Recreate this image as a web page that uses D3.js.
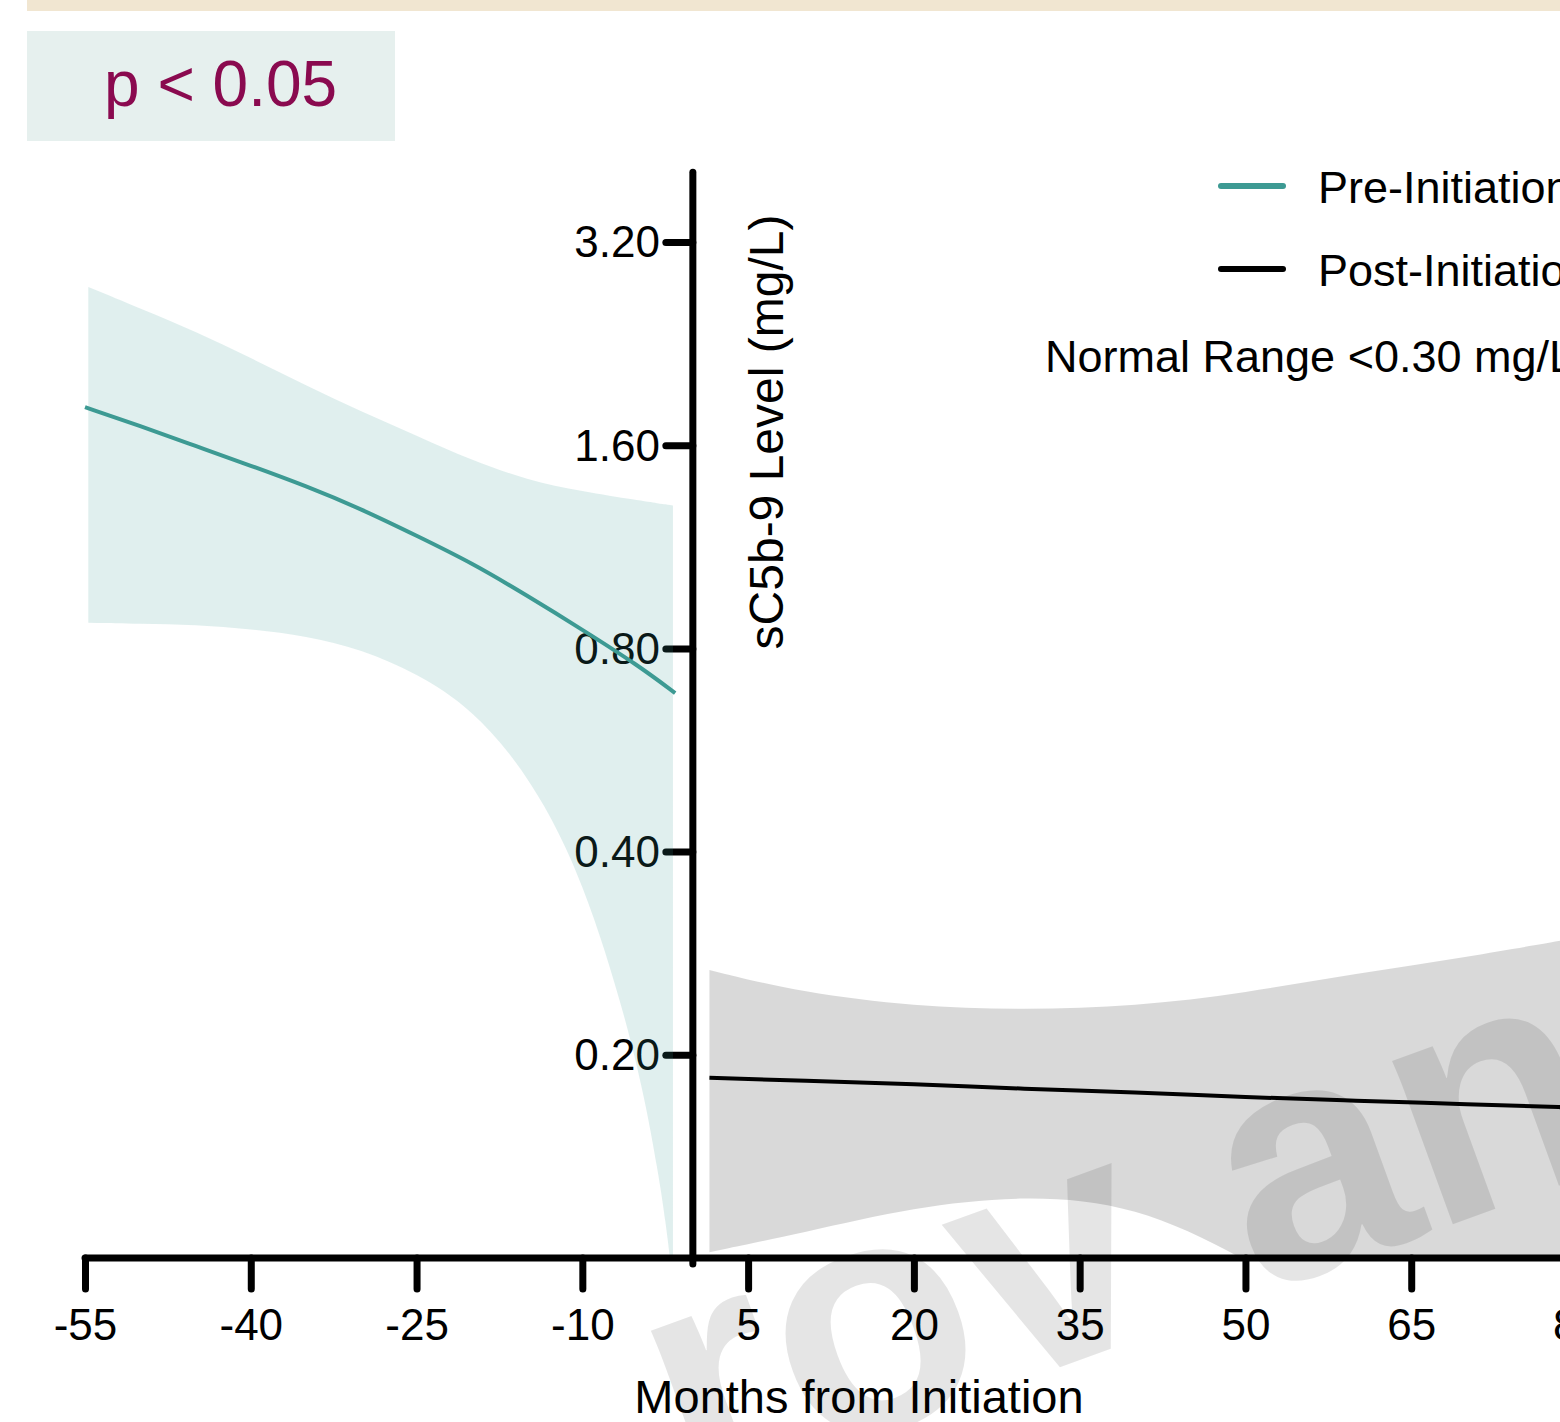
<!DOCTYPE html>
<html>
<head>
<meta charset="utf-8">
<script src="https://cdn.jsdelivr.net/npm/d3@7"></script>
<style>
  html, body { margin: 0; padding: 0; background: #ffffff; }
  svg { display: block; }
  text { font-family: "Liberation Sans", Arial, sans-serif; }
</style>
</head>
<body>
<svg id="chart" width="1560" height="1422"></svg>
<script>
// ---- data ----
const xTicks = [-55, -40, -25, -10, 5, 20, 35, 50, 65, 80];
const yTicks = [0.2, 0.4, 0.8, 1.6, 3.2];

// Pre-initiation fitted trend (months, mg/L)
const preMonths = [-55, -50, -45, -40, -35, -30, -25, -20, -15, -10, -5, -1.6];
const preFit    = [1.822, 1.708, 1.596, 1.492, 1.392, 1.287, 1.175, 1.071, 0.958, 0.853, 0.756, 0.687];

// Pre-initiation confidence band
const preBandMonths = [-54.7, -50, -45, -40, -35, -30, -25, -20, -15, -10, -5, -3, -2.5, -2, -1.8];
const preUpper      = [2.745, 2.551, 2.359, 2.155, 1.961, 1.795, 1.654, 1.519, 1.421, 1.366, 1.326, 1.311, 1.308, 1.304, 1.302];
const preLower      = [0.873, 0.870, 0.867, 0.855, 0.835, 0.798, 0.735, 0.652, 0.524, 0.371, 0.199, 0.130, 0.114, 0.098, 0.090];

// Post-initiation fitted trend
const postMonths = [1.5, 10, 20, 30, 40, 50, 60, 70, 80];
const postFit    = [0.185, 0.183, 0.181, 0.178, 0.176, 0.173, 0.171, 0.169, 0.167];

// Post-initiation confidence band
const postUpper  = [0.267, 0.247, 0.236, 0.233, 0.236, 0.247, 0.264, 0.279, 0.298];
const postLower  = [0.102, 0.109, 0.119, 0.124, 0.120, 0.100, 0.079, 0.059, 0.037];

const legendItems = [
  { label: "Pre-Initiation", color: "#3d9a93" },
  { label: "Post-Initiation", color: "#000000" }
];
const normalRangeNote = "Normal Range <0.30 mg/L";
const pValueText = "p < 0.05";
const xTitle = "Months from Initiation";
const yTitle = "sC5b-9 Level (mg/L)";

// ---- layout ----
const svg = d3.select("#chart");
const teal = "#3d9a93";

const x = d3.scaleLinear().domain([-55, 80]).range([85, 1577]);
const y = d3.scaleLog().base(2).domain([0.1, 3.2]).range([1258, 242]);
const yTop = 4.06;   // upper end of the vertical axis line

// header strip
svg.append("rect").attr("x", 27).attr("y", 0).attr("width", 1533).attr("height", 11)
  .attr("fill", "#f1e6d1");

// significance box
svg.append("rect").attr("x", 27).attr("y", 31).attr("width", 368).attr("height", 110)
  .attr("fill", "#e6f0ee");
svg.append("text").attr("x", 104).attr("y", 106)
  .attr("font-size", 64).attr("fill", "#8a0a4f")
  .text(pValueText);

// ---- axes (ticks and labels) ----
const xAxis = svg.append("g").attr("transform", `translate(0,${y(0.1)})`)
  .call(d3.axisBottom(x).tickValues(xTicks).tickSize(31).tickPadding(20).tickFormat(d => String(d)));
const yAxis = svg.append("g").attr("transform", `translate(${x(0)},0)`)
  .call(d3.axisLeft(y).tickValues(yTicks).tickSize(27).tickPadding(6).tickFormat(d3.format(".2f")));

[xAxis, yAxis].forEach(g => {
  g.select(".domain").remove();
  g.selectAll(".tick line").attr("stroke", "#000").attr("stroke-width", 7).attr("stroke-linecap", "round");
  g.selectAll(".tick text").attr("fill", "#000").attr("font-size", 44)
    .attr("font-family", "'Liberation Sans', Arial, sans-serif");
});
yAxis.selectAll(".tick text").attr("dy", "0.34em");

// ---- confidence bands and fitted lines ----
const clip = svg.append("defs").append("clipPath").attr("id", "plotClip");
clip.append("rect").attr("x", 0).attr("y", 0).attr("width", 1560).attr("height", y(0.1));

const plot = svg.append("g").attr("clip-path", "url(#plotClip)");

const preBand = preBandMonths.map((m, i) => ({ m, lo: preLower[i], hi: preUpper[i] }));
const postBand = postMonths.map((m, i) => ({ m, lo: postLower[i], hi: postUpper[i] }));

const area = d3.area().curve(d3.curveBasis)
  .x(d => x(d.m)).y0(d => y(d.lo)).y1(d => y(d.hi));

plot.append("path").datum(preBand).attr("d", area)
  .attr("fill", teal).attr("fill-opacity", 0.16);
plot.append("path").datum(postBand).attr("d", area)
  .attr("fill", "#000").attr("fill-opacity", 0.15);

const line = d3.line().curve(d3.curveBasis).x(d => x(d[0])).y(d => y(d[1]));

plot.append("path").datum(preMonths.map((m, i) => [m, preFit[i]])).attr("d", line)
  .attr("fill", "none").attr("stroke", teal).attr("stroke-width", 4);
plot.append("path").datum(postMonths.map((m, i) => [m, postFit[i]])).attr("d", line)
  .attr("fill", "none").attr("stroke", "#000").attr("stroke-width", 4);

// ---- axis lines ----
svg.append("line").attr("x1", x(-55)).attr("x2", 1600).attr("y1", y(0.1)).attr("y2", y(0.1))
  .attr("stroke", "#000").attr("stroke-width", 7).attr("stroke-linecap", "round");
svg.append("line").attr("x1", x(0)).attr("x2", x(0)).attr("y1", y(yTop)).attr("y2", y(0.1) + 6)
  .attr("stroke", "#000").attr("stroke-width", 7).attr("stroke-linecap", "round");

// axis titles
svg.append("text").attr("x", 859).attr("y", 1413).attr("text-anchor", "middle")
  .attr("font-size", 47).attr("fill", "#000").text(xTitle);
svg.append("text").attr("transform", "translate(783,432) rotate(-90)")
  .attr("text-anchor", "middle").attr("font-size", 48).attr("fill", "#000").text(yTitle);

// ---- legend ----
const legend = svg.append("g").attr("transform", "translate(1221,0)");
legendItems.forEach((item, i) => {
  const ly = 186 + i * 83;
  legend.append("line").attr("x1", 0).attr("x2", 62).attr("y1", ly).attr("y2", ly)
    .attr("stroke", item.color).attr("stroke-width", 6).attr("stroke-linecap", "round");
  legend.append("text").attr("x", 97).attr("y", ly + 17)
    .attr("font-size", 45).attr("fill", "#000").text(item.label);
});
svg.append("text").attr("x", 1045).attr("y", 372)
  .attr("font-size", 45).attr("fill", "#000").text(normalRangeNote);

// ---- watermark overlay ----
svg.append("text")
  .attr("transform", "translate(690,1502) rotate(-20)")
  .attr("font-size", 330).attr("font-weight", "bold")
  .attr("fill", "#000").attr("fill-opacity", 0.1)
  .attr("xml:space", "preserve")
  .text("rov an");
</script>
</body>
</html>
